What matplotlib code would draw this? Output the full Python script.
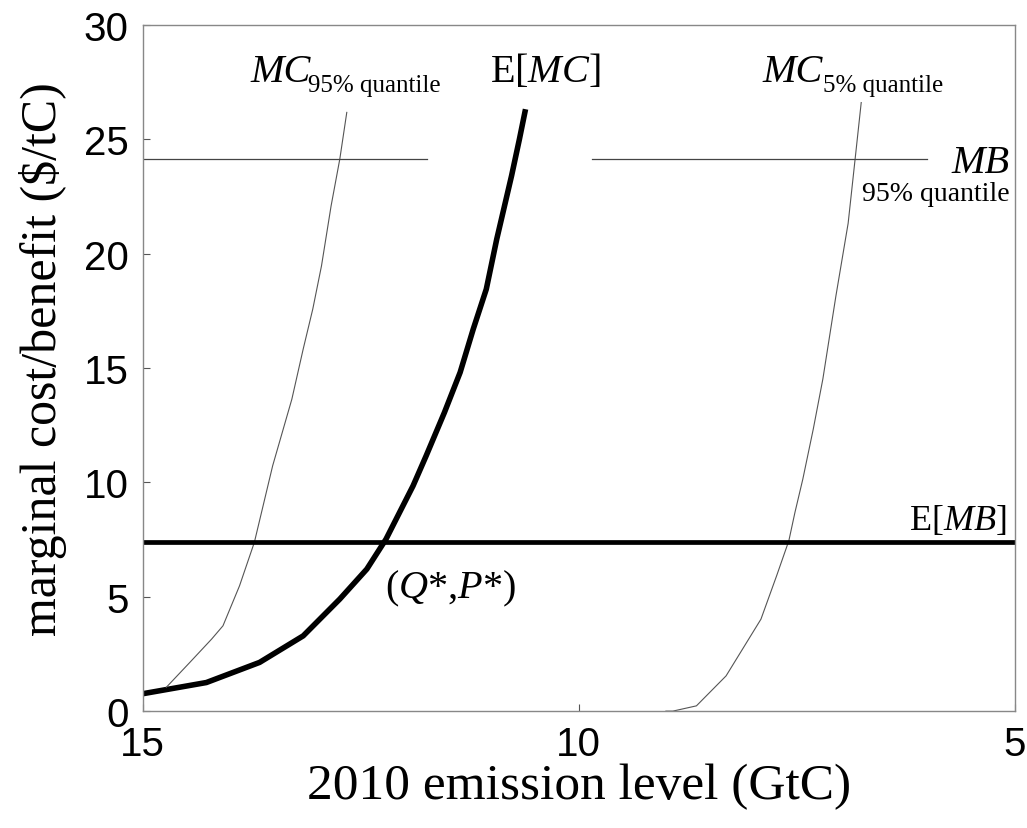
import matplotlib
matplotlib.use("Agg")
import matplotlib.pyplot as plt

# values (emission level GtC, marginal cost/benefit $/tC)
emc_x = [15.03, 14.27, 13.66, 13.16, 12.74, 12.43, 12.21, 11.90, 11.75, 11.54,
         11.36, 11.21, 11.06, 10.94, 10.77, 10.68, 10.61]
emc_y = [0.74, 1.25, 2.13, 3.29, 4.90, 6.21, 7.52, 9.85, 11.16, 13.06,
         14.81, 16.70, 18.45, 20.64, 23.41, 25.01, 26.32]

mc95_x = [14.73, 14.46, 14.21, 14.08, 13.89, 13.72, 13.51, 13.29, 13.16, 13.05,
          12.95, 12.84, 12.74, 12.66]
mc95_y = [1.04, 2.13, 3.15, 3.73, 5.48, 7.38, 10.73, 13.64, 15.83, 17.58,
          19.47, 22.09, 24.14, 26.18]

mc5_x = [9.00, 8.92, 8.65, 8.31, 7.91, 7.73, 7.59, 7.52, 7.43, 7.31,
         7.20, 7.05, 6.91, 6.83, 6.76]
mc5_y = [0.0, 0.0, 0.23, 1.54, 4.02, 5.92, 7.45, 8.69, 10.14, 12.33,
         14.52, 18.16, 21.33, 24.14, 26.61]

emb_level = 7.4
mb95_level = 24.15
mb95_segments = [(15.0, 11.74), (9.85, 6.0)]

xticks = [15, 10, 5]
yticks = [0, 5, 10, 15, 20, 25, 30]

plt.rcParams['mathtext.fontset'] = 'custom'
plt.rcParams['mathtext.rm'] = 'Liberation Serif'
plt.rcParams['mathtext.it'] = 'Liberation Serif:italic'

serif = 'Liberation Serif'
sans = 'Liberation Sans'

fig = plt.figure(figsize=(10.27, 8.29), dpi=100)
ax = fig.add_axes([0.139, 0.141, 0.849, 0.8276])

ax.plot(emc_x, emc_y, color='black', lw=4.0, solid_capstyle='butt', solid_joinstyle='round')
ax.plot(mc95_x, mc95_y, color='#555555', lw=0.8)
ax.plot(mc5_x, mc5_y, color='#555555', lw=0.8)
ax.axhline(emb_level, color='black', lw=3.4)
for x0, x1 in mb95_segments:
    ax.plot([x0, x1], [mb95_level, mb95_level], color='#444444', lw=0.9)

ax.set_xlim(15, 5)
ax.set_ylim(0, 30)
ax.set_xticks(xticks)
ax.set_yticks(yticks)
ax.tick_params(direction='in', length=5, width=0.8, color='#555555',
               labelsize=29, pad=10)
for lab in ax.get_xticklabels() + ax.get_yticklabels():
    lab.set_fontfamily(sans)
for s in ax.spines.values():
    s.set_color('#888888')
    s.set_linewidth(1.0)

ax.set_xlabel('2010 emission level (GtC)', fontfamily=serif, fontsize=37, labelpad=0)
ax.set_ylabel('marginal cost/benefit ($/tC)', fontfamily=serif, fontsize=36, labelpad=12)
ax.yaxis.label.set_y(0.515)

# curve labels
ax.text(13.77, 27.55, 'MC', fontfamily=serif, fontstyle='italic', fontsize=29, ha='left', va='baseline')
ax.text(13.11, 27.11, '95% quantile', fontfamily=serif, fontsize=18, ha='left', va='baseline')
ax.text(11.02, 27.55, r'$\mathrm{E[}\mathit{MC}\mathrm{]}$', fontsize=29, ha='left', va='baseline')
ax.text(7.89, 27.55, 'MC', fontfamily=serif, fontstyle='italic', fontsize=29, ha='left', va='baseline')
ax.text(7.20, 27.11, '5% quantile', fontfamily=serif, fontsize=18, ha='left', va='baseline')
ax.text(5.06, 23.57, 'MB', fontfamily=serif, fontstyle='italic', fontsize=29, ha='right', va='baseline')
ax.text(5.06, 22.35, '95% quantile', fontfamily=serif, fontsize=20, ha='right', va='baseline')
ax.text(5.09, 7.96, r'$\mathrm{E[}\mathit{MB}\mathrm{]}$', fontsize=26, ha='right', va='baseline')
ax.text(12.22, 4.98, r'$\mathrm{(}\mathit{Q}\mathrm{*}{,}\mathit{P}\mathrm{*)}$', fontsize=29, ha='left', va='baseline')

fig.savefig('out.png', dpi=100)
